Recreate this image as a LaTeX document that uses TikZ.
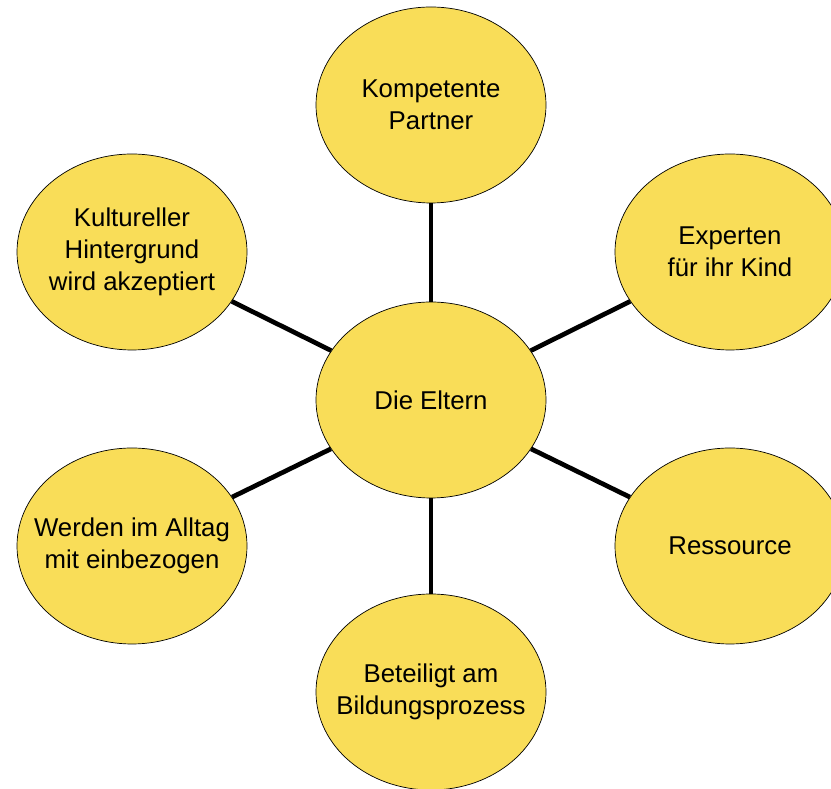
\documentclass[tikz,border=0pt]{standalone}
\usepackage{fontspec}
\setmainfont{Liberation Sans}
\usetikzlibrary{shapes.geometric}
\definecolor{bubblefill}{RGB}{249,221,88}

\begin{document}
\begin{tikzpicture}[
    bubble/.style={ellipse, draw=black, line width=0.6pt, fill=bubblefill,
        minimum width=6.9cm, minimum height=5.88cm, inner sep=-1.5cm,
        align=center, font=\fontsize{22}{27.5}\selectfont},
    spoke/.style={line width=4pt}]
    \useasboundingbox (0,0) rectangle (24.93,23.67);

    % Middle
    \node[bubble] (eltern) at (12.93,11.67) {Die Eltern};

    % Satellites
    \node[bubble] (partner) at (12.93,20.52) {Kompetente\\Partner};
    \node[bubble] (kultur) at (3.96,16.11) {Kultureller\\Hintergrund\\wird akzeptiert};
    \node[bubble] (experten) at (21.9,16.11) {Experten\\für ihr Kind};
    \node[bubble] (alltag) at (3.96,7.29) {Werden im Alltag\\mit einbezogen};
    \node[bubble] (ressource) at (21.9,7.29) {Ressource};
    \node[bubble] (bildung) at (12.93,2.91) {Beteiligt am\\Bildungsprozess};

    % Spokes
    \foreach \n in {partner,kultur,experten,alltag,ressource,bildung}
        \draw[spoke] (eltern) -- (\n);
\end{tikzpicture}
\end{document}
